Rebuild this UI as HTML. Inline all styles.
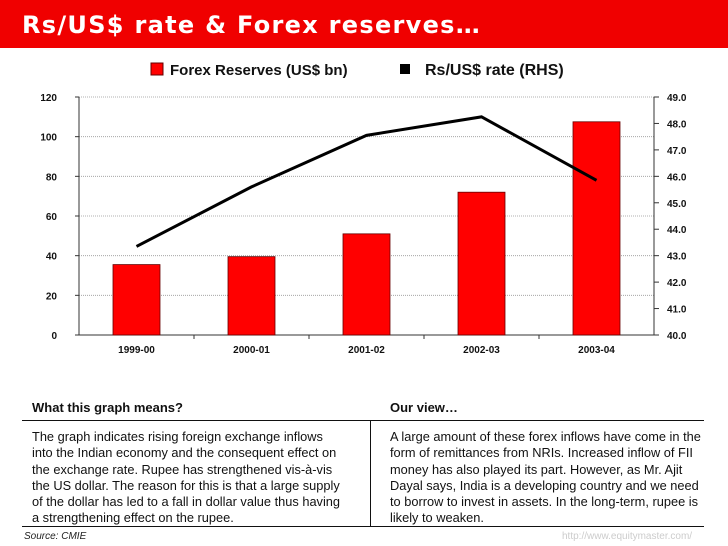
<!DOCTYPE html>
<html><head><meta charset="utf-8"><style>
body{margin:0;width:728px;height:546px;background:#fff;font-family:"Liberation Sans",Arial,sans-serif;position:relative;overflow:hidden}
.hdr{position:absolute;left:0;top:0;width:728px;height:48px;background:#f00000}
.hdr span{position:absolute;left:22px;top:11px;color:#fff;font-weight:bold;font-size:24px;letter-spacing:1.3px;font-family:"DejaVu Sans",Verdana,sans-serif}
.t{position:absolute;font-size:12.8px;line-height:16.3px;color:#111;white-space:nowrap}
.h{position:absolute;font-size:13px;font-weight:bold;color:#111}
</style></head><body>
<div class="hdr"><span>Rs/US$ rate &amp; Forex reserves…</span></div>
<svg id="c" width="728" height="380" style="position:absolute;left:0;top:0"></svg>
<div class="h" style="left:32px;top:400px">What this graph means?</div>
<div class="h" style="left:390px;top:400px">Our view…</div>
<div style="position:absolute;left:22px;top:420px;width:682px;border-top:1.5px solid #111"></div>
<div style="position:absolute;left:22px;top:526px;width:682px;border-top:1.5px solid #111"></div>
<div style="position:absolute;left:370px;top:421px;height:105px;border-left:1px solid #111"></div>
<div class="t" style="left:32px;top:429px">The graph indicates rising foreign exchange inflows<br>into the Indian economy and the consequent effect on<br>the exchange rate. Rupee has strengthened vis-à-vis<br>the US dollar. The reason for this is that a large supply<br>of the dollar has led to a fall in dollar value thus having<br>a strengthening effect on the rupee.</div>
<div class="t" style="left:390px;top:429px">A large amount of these forex inflows have come in the<br>form of remittances from NRIs. Increased inflow of FII<br>money has also played its part. However, as Mr. Ajit<br>Dayal says, India is a developing country and we need<br>to borrow to invest in assets. In the long-term, rupee is<br>likely to weaken.</div>
<div style="position:absolute;left:24px;top:531px;font-size:10px;font-style:italic;color:#222">Source: CMIE</div>
<div style="position:absolute;left:562px;top:531px;font-size:10px;color:#ccc">http://www.equitymaster.com/</div>
<script>
const categories=["1999-00","2000-01","2001-02","2002-03","2003-04"];
const reserves=[35.5,39.5,51,72,107.5];
const rate=[43.35,45.6,47.55,48.25,45.85];
const leftTicks=[0,20,40,60,80,100,120];
const rightTicks=[40,41,42,43,44,45,46,47,48,49];
const s=document.getElementById('c'),NS="http://www.w3.org/2000/svg";
const X0=79,X1=654,Y0=335,Y1=97;
const xc=i=>X0+(X1-X0)/categories.length*(i+0.5);
const yl=v=>Y0-(v/120)*(Y0-Y1);
const yr=v=>Y0-((v-40)/9)*(Y0-Y1);
function mk(t,a,txt){const e=document.createElementNS(NS,t);for(const k in a)e.setAttribute(k,a[k]);if(txt!==undefined)e.textContent=txt;s.appendChild(e);return e;}
leftTicks.forEach(v=>{if(v>0){const g=mk('line',{x1:X0,x2:X1,y1:yl(v),y2:yl(v),stroke:'#999','stroke-dasharray':'1,1','stroke-width':0.8});

}
const tk=mk('line',{x1:X0-4,x2:X0,y1:yl(v),y2:yl(v),stroke:'#333'});


const l=mk('text',{x:57,y:yl(v)+4,'text-anchor':'end','font-size':10,'font-weight':'bold',fill:'#111'},v);

});
rightTicks.forEach(v=>{const tk=mk('line',{x1:X1,x2:X1+5,y1:yr(v),y2:yr(v),stroke:'#333'});


const l=mk('text',{x:667,y:yr(v)+4,'font-size':10,'font-weight':'bold',fill:'#111'},v.toFixed(1));

});
let ax=mk('line',{x1:X0,x2:X0,y1:Y1,y2:Y0,stroke:'#333'});
ax=mk('line',{x1:X1,x2:X1,y1:Y1,y2:Y0,stroke:'#333'});
ax=mk('line',{x1:X0-4,x2:X1+5,y1:Y0,y2:Y0,stroke:'#333'});
categories.forEach((c,i)=>{
if(i>0){const t=mk('line',{x1:X0+115*i,x2:X0+115*i,y1:Y0,y2:Y0+4,stroke:'#333'});}
const b=mk('rect',{x:xc(i)-23.5,y:yl(reserves[i]),width:47,height:Y0-yl(reserves[i]),fill:'#f00',stroke:'#600','stroke-width':0.8});


const l=mk('text',{x:xc(i),y:353,'text-anchor':'middle','font-size':10,'font-weight':'bold',fill:'#111'},c);

});
const ln=mk('polyline',{points:rate.map((v,i)=>xc(i)+','+yr(v)).join(' '),fill:'none',stroke:'#000','stroke-width':3});


let r=mk('rect',{x:151,y:63,width:12,height:12,fill:'#f00',stroke:'#600'});
let t=mk('text',{x:170,y:75,'font-size':15,'font-weight':'bold',fill:'#111'},'Forex Reserves (US$ bn)');
r=mk('rect',{x:400,y:64,width:10,height:10,fill:'#000'});
t=mk('text',{x:425,y:75,'font-size':16,'font-weight':'bold',fill:'#111'},'Rs/US$ rate (RHS)');
</script>
</body></html>
